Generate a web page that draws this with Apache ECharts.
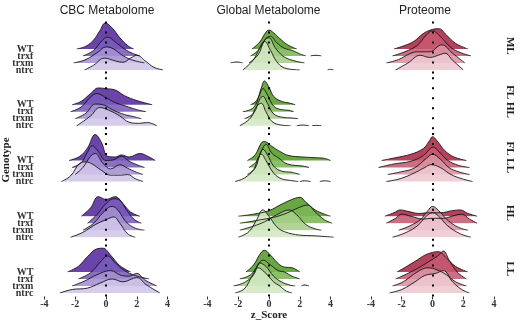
<!DOCTYPE html>
<html>
<head>
<meta charset="utf-8">
<script src="https://cdn.jsdelivr.net/npm/echarts@6/dist/echarts.min.js"></script>
<style>
html, body { margin: 0; padding: 0; background: #ffffff; }
#chart { width: 520px; height: 322px; }
</style>
</head>
<body>
<div id="chart"></div>
<script>
// facets
var columns = ['CBC Metabolome', 'Global Metabolome', 'Proteome']
var facets = ['ML', 'FL HL', 'FL LL', 'HL', 'LL']
var genotypes = ['WT', 'trxf', 'trxm', 'ntrc']
var xTicks = [-4, -2, 0, 2, 4]

// ridges per panel: [WT, trxf, trxm, ntrc], points are [z_Score, density height], null = gap
var cbcML = [
  [[-1.9, 0], [-1.3, 0.4], [-0.8, 1.3], [-0.4, 2.6], [-0.05, 3.7], [0.4, 3.0], [0.9, 1.6], [1.4, 0.5], [1.8, 0]],
  [[-1.5, 0], [-0.8, 0.8], [-0.3, 2.1], [0.1, 2.7], [0.6, 2.0], [1.2, 1.0], [1.7, 0.4], [2.2, 0]],
  [[-2.1, 0], [-1.3, 0.5], [-0.5, 1.6], [0, 2.3], [0.5, 2.0], [1.0, 1.2], [1.6, 0.5], [2.5, 0]],
  [[-1.4, 0], [-0.8, 0.7], [-0.1, 1.7], [0.6, 1.3], [1.1, 1.1], [1.6, 1.7], [2.0, 2.1], [2.6, 1.2], [3.1, 0.4], [3.7, 0]]
]
var cbcFLHL = [
  [[-2.2, 0], [-1.6, 0.5], [-1.0, 1.6], [-0.5, 2.4], [0, 2.3], [0.6, 2.1], [1.2, 1.3], [2.0, 0.6], [3.0, 0]],
  [[-2.3, 0], [-1.6, 0.7], [-1.0, 2.1], [-0.6, 2.6], [0, 2.0], [0.6, 1.3], [1.3, 0.8], [2.0, 0.3], [2.6, 0]],
  [[-2.0, 0], [-1.3, 0.8], [-0.7, 2.1], [-0.2, 2.0], [0.5, 1.2], [1.2, 0.6], [1.8, 0.3], [2.3, 0]],
  [[-1.9, 0], [-1.0, 1.4], [-0.4, 2.6], [0.2, 2.2], [0.9, 1.4], [1.5, 0.5], [2.1, 0.35], [2.7, 0.45], [3.3, 0]]
]
var cbcFLLL = [
  [[-2.4, 0], [-1.7, 0.6], [-1.2, 1.8], [-0.7, 3.7], [-0.3, 2.6], [0.1, 0.6], [0.6, 0.5], [1.0, 0.8], [1.5, 0.5], [2.2, 1.0], [2.8, 0.5], [3.2, 0]],
  [[-2.2, 0], [-1.6, 0.7], [-1.2, 2.2], [-0.9, 3.1], [-0.5, 2.3], [0, 1.0], [0.5, 1.1], [1.0, 1.6], [1.5, 0.9], [2.0, 0.4], [2.5, 0]],
  [[-2.0, 0], [-1.5, 1.0], [-1.0, 2.6], [-0.7, 3.0], [-0.2, 1.6], [0.3, 0.8], [0.9, 1.4], [1.4, 0.9], [2.0, 0.3], [2.4, 0]],
  [[-2.9, 0], [-2.3, 0.8], [-1.7, 2.6], [-1.3, 2.8], [-0.9, 2.5], [-0.3, 1.6], [0.3, 0.9], [1.0, 0.9], [1.4, 1.0], [1.9, 0.4], [2.4, 0]]
]
var cbcHL = [
  [[-1.6, 0], [-1.0, 1.2], [-0.5, 2.8], [0, 2.4], [0.6, 2.8], [1.1, 1.8], [1.6, 0.6], [2.2, 0]],
  [[-1.2, 0], [-0.6, 1.2], [0, 2.8], [0.5, 3.5], [0.9, 3.3], [1.3, 2.0], [1.8, 0.6], [2.3, 0]],
  [[-1.5, 0], [-0.8, 1.0], [-0.2, 2.5], [0.4, 3.4], [0.8, 2.8], [1.3, 1.2], [1.9, 0.3], [2.5, 0]],
  [[-2.3, 0], [-1.5, 0.7], [-0.7, 1.8], [0, 2.5], [0.5, 2.9], [0.9, 2.0], [1.4, 0.5], [1.9, 0]]
]
var cbcLL = [
  [[-2.5, 0], [-1.8, 0.8], [-1.2, 2.2], [-0.6, 3.3], [-0.2, 3.4], [0.3, 2.4], [0.9, 0.9], [1.6, 0]],
  [[-1.8, 0], [-1.0, 0.9], [-0.3, 2.6], [0.1, 3.3], [0.6, 2.3], [1.2, 1.2], [1.9, 0.5], [2.8, 0]],
  [[-2.2, 0], [-1.4, 0.7], [-0.6, 1.6], [0.3, 2.2], [1.0, 1.5], [1.5, 1.4], [2.0, 1.8], [2.5, 0.9], [3.3, 0]],
  [[-3.0, 0], [-2.2, 0.5], [-1.2, 0.7], [-0.4, 1.4], [0.4, 2.0], [1.1, 1.6], [2.0, 2.2], [2.6, 1.2], [3.5, 0]]
]

var globalML = [
  [[-1.1, 0], [-0.6, 1.0], [-0.2, 2.4], [0, 2.7], [0.3, 2.3], [0.7, 1.5], [1.2, 0.6], [1.8, 0]],
  [[-1.2, 0], [-0.7, 0.8], [-0.2, 2.5], [0.1, 2.8], [0.5, 1.9], [1.0, 1.1], [1.5, 0.8], [2.0, 0.3], [2.4, 0], null, [2.7, 0], [3.0, 0.1], [3.4, 0]],
  [[-2.5, 0], [-2.1, 0.15], [-1.7, 0], null, [-1.3, 0], [-0.7, 1.2], [-0.3, 3.2], [0, 3.6], [0.4, 2.2], [0.9, 1.0], [1.5, 0.4], [2.3, 0]],
  [[-1.7, 0], [-1.0, 1.5], [-0.5, 3.6], [-0.3, 4.1], [0.1, 2.8], [0.5, 1.2], [1.0, 0.3], [2.0, 0], null, [3.8, 0], [4.0, 0.1], [4.2, 0]]
]
var globalFLHL = [
  [[-1.2, 0], [-0.8, 0.6], [-0.5, 2.4], [-0.3, 3.4], [0, 2.5], [0.3, 1.2], [0.8, 0.5], [1.4, 0.2], [1.7, 0]],
  [[-1.7, 0], [-1.0, 0.6], [-0.6, 2.5], [-0.4, 3.3], [-0.1, 2.4], [0.3, 0.8], [0.8, 0.3], [1.3, 0.2], [1.6, 0]],
  [[-1.6, 0], [-1.0, 0.8], [-0.6, 2.8], [-0.4, 3.2], [-0.1, 2.2], [0.3, 0.7], [0.9, 0.2], [1.5, 0.1], [1.9, 0]],
  [[-1.9, 0], [-1.2, 1.1], [-0.8, 2.8], [-0.5, 3.2], [-0.2, 2.0], [0.2, 0.6], [0.8, 0.1], [1.4, 0], null, [1.8, 0], [2.2, 0.1], [2.6, 0], null, [2.8, 0], [3.1, 0.05], [3.4, 0]]
]
var globalFLLL = [
  [[-1.4, 0], [-0.9, 0.8], [-0.5, 2.5], [-0.3, 2.7], [0.2, 2.0], [0.7, 1.3], [1.3, 0.7], [2.2, 0.5], [3.0, 0.4], [3.6, 0.3], [4.0, 0]],
  [[-1.3, 0], [-0.8, 0.9], [-0.5, 2.3], [-0.2, 3.3], [0.2, 2.0], [0.6, 1.4], [1.2, 0.5], [2.2, 0.2], [2.6, 0]],
  [[-1.4, 0], [-0.9, 0.9], [-0.6, 2.8], [-0.4, 3.6], [-0.1, 2.8], [0.3, 1.2], [0.8, 0.5], [1.5, 0.3], [2.0, 0]],
  [[-2.2, 0], [-1.6, 0.5], [-1.0, 1.7], [-0.7, 3.4], [-0.5, 3.9], [-0.2, 3.0], [0.3, 1.2], [0.8, 0.4], [1.4, 0.15], [1.9, 0], null, [2.0, 0], [2.3, 0.1], [2.7, 0], null, [3.3, 0], [3.6, 0.1], [4.0, 0]]
]
var globalHL = [
  [[-2.0, 0], [-1.0, 0.3], [0, 0.8], [0.8, 1.7], [1.5, 2.4], [2.0, 2.7], [2.4, 2.0], [3.0, 0.9], [3.6, 0.3], [4.0, 0]],
  [[-1.9, 0], [-0.8, 0.4], [0.4, 0.9], [1.2, 1.5], [1.9, 2.2], [2.5, 2.6], [3.0, 1.6], [3.6, 0.5], [4.1, 0]],
  [[-1.9, 0], [-1.0, 0.6], [-0.3, 1.2], [0.5, 2.2], [1.3, 2.9], [1.8, 2.2], [2.4, 0.8], [3.0, 0.2], [3.4, 0]],
  [[-2.0, 0], [-1.3, 0.8], [-0.8, 2.5], [-0.4, 3.9], [0, 3.0], [0.5, 1.5], [1.0, 0.8], [2.0, 0.3], [3.0, 0.2], [4.2, 0]]
]
var globalLL = [
  [[-1.5, 0], [-1.0, 1.0], [-0.6, 2.5], [-0.3, 3.1], [0.1, 2.4], [0.6, 1.2], [1.0, 0.7], [1.5, 0.6], [2.0, 0]],
  [[-1.9, 0], [-1.2, 0.6], [-0.7, 2.0], [-0.4, 2.7], [0.1, 2.0], [0.6, 1.2], [1.0, 1.0], [1.5, 0.4], [2.0, 0]],
  [[-2.3, 0], [-1.6, 0.5], [-1.0, 1.6], [-0.6, 3.3], [-0.2, 2.8], [0.3, 1.4], [0.8, 0.6], [1.4, 0.1], [1.7, 0], null, [2.1, 0], [2.3, 0.15], [2.6, 0]],
  [[-2.2, 0], [-1.6, 0.6], [-1.1, 2.4], [-0.7, 3.6], [-0.3, 3.0], [0.3, 1.6], [0.7, 1.0], [1.1, 0.3], [1.5, 0]]
]

var protML = [
  [[-2.5, 0], [-1.8, 0.5], [-1.2, 1.1], [-0.6, 2.2], [0, 2.8], [0.4, 2.9], [0.9, 2.0], [1.5, 0.8], [2.3, 0]],
  [[-2.6, 0], [-1.8, 0.6], [-1.0, 1.5], [-0.4, 3.0], [0, 3.6], [0.5, 2.8], [1.2, 1.2], [1.8, 0.5], [2.5, 0]],
  [[-3.0, 0], [-2.2, 0.5], [-1.4, 1.4], [-0.9, 1.6], [-0.2, 1.6], [0.6, 2.6], [1.3, 1.4], [2.1, 0]],
  [[-2.4, 0], [-1.6, 1.0], [-0.8, 2.1], [-0.2, 1.8], [0.5, 2.2], [0.8, 2.4], [1.3, 1.4], [2.0, 0]]
]
var protFLHL = [[], [], [], []]
var protFLLL = [
  [[-3.3, 0], [-2.4, 0.4], [-1.4, 0.9], [-0.6, 1.7], [-0.2, 2.8], [0, 3.4], [0.3, 2.8], [0.8, 1.4], [1.4, 0.5], [2.2, 0]],
  [[-3.5, 0], [-2.5, 0.5], [-1.4, 0.9], [-0.6, 1.7], [-0.1, 2.8], [0.05, 2.9], [0.4, 2.3], [1.0, 1.0], [1.7, 0.3], [2.4, 0]],
  [[-2.9, 0], [-2.0, 0.4], [-1.2, 0.9], [-0.4, 2.3], [0, 2.9], [0.5, 2.2], [1.2, 0.8], [2.4, 0]],
  [[-3.0, 0], [-2.1, 0.4], [-1.2, 1.2], [-0.5, 2.0], [-0.1, 2.4], [0.5, 2.0], [1.2, 1.0], [1.9, 0.4], [2.6, 0]]
]
var protHL = [
  [[-3.1, 0], [-2.5, 0.5], [-2.1, 0.9], [-1.6, 0.7], [-0.9, 0.4], [-0.2, 0.5], [0.5, 0.5], [1.3, 0.8], [1.8, 0.9], [2.3, 0.4], [2.9, 0]],
  [[-3.0, 0], [-2.4, 0.7], [-2.0, 1.3], [-1.4, 1.0], [-0.6, 0.6], [0, 0.7], [0.7, 0.7], [1.4, 1.1], [1.9, 1.3], [2.4, 0.6], [2.9, 0]],
  [[-2.2, 0], [-1.5, 0.6], [-0.8, 1.5], [-0.3, 2.8], [0, 3.4], [0.4, 2.8], [1.0, 1.4], [1.7, 0.4], [2.3, 0]],
  [[-2.6, 0], [-1.8, 0.6], [-1.0, 1.6], [-0.4, 3.0], [0, 3.5], [0.4, 3.0], [1.0, 1.6], [1.8, 0.5], [2.5, 0]]
]
var protLL = [
  [[-2.3, 0], [-1.6, 0.9], [-1.0, 1.7], [-0.5, 2.4], [0, 2.8], [0.4, 2.9], [0.9, 2.0], [1.5, 0.8], [2.3, 0]],
  [[-2.4, 0], [-1.6, 0.8], [-0.9, 1.6], [-0.3, 2.4], [0.4, 3.4], [0.7, 4.0], [1.1, 2.6], [1.6, 1.0], [2.2, 0]],
  [[-2.6, 0], [-1.9, 0.6], [-1.0, 2.0], [-0.3, 2.6], [0.3, 2.3], [0.9, 1.6], [1.5, 0.6], [2.2, 0]],
  [[-2.8, 0], [-2.0, 0.5], [-1.2, 1.5], [-0.5, 2.5], [0.2, 2.8], [0.7, 3.2], [1.3, 1.6], [1.9, 0.5], [2.4, 0]]
]

var panels = [
  [cbcML, globalML, protML],
  [cbcFLHL, globalFLHL, protFLHL],
  [cbcFLLL, globalFLLL, protFLLL],
  [cbcHL, globalHL, protHL],
  [cbcLL, globalLL, protLL]
]

// fill colours, dark -> light per genotype
var palette = [
  ['#552a9c', '#7a5bbd', '#a590d2', '#d0c5e9'],
  ['#569a2b', '#7bb753', '#a6ce88', '#d2e7c1'],
  ['#a92846', '#c65a71', '#da93a2', '#eec7d0']
]

// layout (pixels)
var zeroX = [106, 269, 432.5]
var titleX = [107, 268.5, 425]
var PX = 15.4
var STEP = 7
var ROW = 55.75
var NTRC0 = 70
var XMIN = -4.6
var XMAX = 4.6
var serif = '"Liberation Serif", "DejaVu Serif", serif'

var grid = []
var xAxis = []
var yAxis = []
var series = []

function addGrid(g, xa, ya) {
  grid.push(g)
  var i = grid.length - 1
  xa.gridIndex = i
  ya.gridIndex = i
  xAxis.push(xa)
  yAxis.push(ya)
  return i
}

facets.forEach(function(f, r) {
  var ntrcY = NTRC0 + ROW * r
  var top = ntrcY - 3 * STEP - 31
  var bottom = ntrcY + 3.5
  columns.forEach(function(c, ci) {
    var ridges = panels[r][ci]
    // one grid per ridge so the area fills down to its own baseline
    genotypes.forEach(function(g, k) {
      var base = ntrcY - (3 - k) * STEP
      var i = addGrid(
        { left: zeroX[ci] + XMIN * PX, top: top, width: (XMAX - XMIN) * PX, height: base - top },
        { type: 'value', min: XMIN, max: XMAX, show: false },
        { type: 'value', min: 0, max: (base - top) / STEP, show: false }
      )
      series.push({
        name: c + ' ' + f + ' ' + g,
        type: 'line',
        xAxisIndex: i,
        yAxisIndex: i,
        data: ridges[k].map(function(p) { return p ? p : ['-', '-'] }),
        smooth: 0.4,
        symbol: 'none',
        silent: true,
        lineStyle: { color: '#151515', width: 0.9 },
        areaStyle: { color: palette[ci][k], opacity: 0.88 }
      })
    })
    // panel axes + dotted zero line
    var pi = addGrid(
      { left: zeroX[ci] - 4 * PX, top: top, width: 8 * PX, height: bottom - top },
      {
        type: 'value', min: -4, max: 4, interval: 2, show: r === facets.length - 1,
        axisLine: { show: false },
        splitLine: { show: false },
        axisTick: { length: 3, lineStyle: { color: '#333333' } },
        axisLabel: { margin: 3, color: '#333333', fontSize: 10, fontWeight: 'bold', fontFamily: serif,
          formatter: function(v) { return xTicks.indexOf(v) >= 0 ? String(v) : '' } }
      },
      {
        type: 'value', min: 0.5, max: 0.5 + (bottom - top) / STEP, interval: 0.5, show: ci === 0,
        axisLine: { show: false },
        splitLine: { show: false },
        axisTick: { show: false },
        axisLabel: { margin: 11, color: '#333333', fontSize: 10, fontWeight: 'bold', fontFamily: serif,
          formatter: function(v) {
            var idx = 4 - v
            return (v === Math.round(v) && idx >= 0 && idx < 4) ? genotypes[idx] : ''
          } }
      }
    )
    series.push({
      type: 'line',
      xAxisIndex: pi,
      yAxisIndex: pi,
      data: [],
      z: 10,
      markLine: {
        silent: true,
        symbol: 'none',
        label: { show: false },
        lineStyle: { color: '#000000', type: [2, 8], width: 2 },
        data: [{ xAxis: 0 }]
      }
    })
  })
})

var graphic = []
columns.forEach(function(c, ci) {
  graphic.push({ type: 'text', x: titleX[ci], y: 11,
    style: { text: c, textAlign: 'center', textVerticalAlign: 'middle', fill: '#222222',
      font: '12px "Liberation Sans", sans-serif' } })
})
facets.forEach(function(f, r) {
  graphic.push({ type: 'text', x: 510, y: NTRC0 + ROW * r - 24.25, rotation: -Math.PI / 2,
    style: { text: f, textAlign: 'center', textVerticalAlign: 'middle', fill: '#222222',
      font: 'bold 11px ' + serif } })
})
graphic.push({ type: 'text', x: 6, y: 160, rotation: Math.PI / 2,
  style: { text: 'Genotype', textAlign: 'center', textVerticalAlign: 'middle', fill: '#222222',
    font: 'bold 11px ' + serif } })
graphic.push({ type: 'text', x: 269, y: 315,
  style: { text: 'z_Score', textAlign: 'center', textVerticalAlign: 'middle', fill: '#222222',
    font: 'bold 11px ' + serif } })

var myChart = echarts.init(document.getElementById('chart'))
myChart.setOption({
  animation: false,
  backgroundColor: '#ffffff',
  grid: grid,
  xAxis: xAxis,
  yAxis: yAxis,
  series: series,
  graphic: graphic
})
</script>
</body>
</html>
